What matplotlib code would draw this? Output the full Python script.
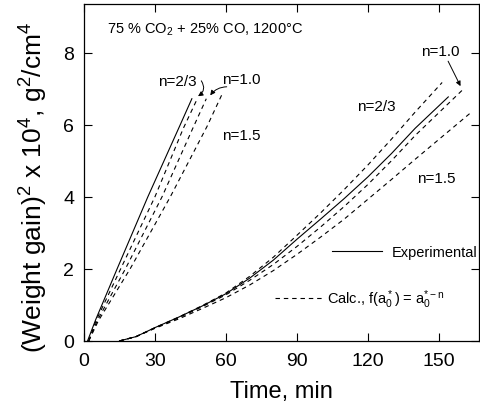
import numpy as np
import matplotlib
matplotlib.use('Agg')
import matplotlib.pyplot as plt
from matplotlib.lines import Line2D

plt.rcParams['font.family'] = ['Liberation Sans', 'DejaVu Sans']
plt.rcParams['mathtext.default'] = 'regular'

# grupo da esquerda (curva rapida)
t_esq_exp = [1.5, 5, 14, 27, 40.7, 45.6]
y_esq_exp = [0, 0.6, 2, 4, 6, 6.72]
t_esq_23 = [2, 5, 15.5, 30, 42, 47.9]
y_esq_23 = [0, 0.55, 2, 4, 5.9, 6.72]
t_esq_10 = [2, 5.5, 17.5, 33, 46, 51.7]
y_esq_10 = [0, 0.55, 2, 4, 5.9, 6.72]
t_esq_15 = [2, 6, 19.5, 36.5, 52, 58.4]
y_esq_15 = [0, 0.55, 2, 4, 5.95, 6.85]

# grupo da direita (curva lenta)
t_dir = [15, 22, 30, 40, 50, 60, 70, 80, 90, 100, 110, 120, 130, 140]
y_dir_exp = [0, 0.12, 0.37, 0.66, 0.97, 1.31, 1.74, 2.24, 2.82, 3.38, 3.95, 4.55, 5.2, 5.9]
y_dir_23 = [0, 0.12, 0.37, 0.66, 0.98, 1.33, 1.79, 2.32, 2.93, 3.55, 4.2, 4.88, 5.6, 6.35]
y_dir_10 = [0, 0.12, 0.36, 0.64, 0.95, 1.28, 1.68, 2.12, 2.62, 3.16, 3.73, 4.34, 5.0, 5.7]
y_dir_15 = [0, 0.12, 0.35, 0.61, 0.9, 1.2, 1.55, 1.95, 2.4, 2.88, 3.38, 3.93, 4.48, 5.04]
fim_exp = (154, 6.77)
fim_23 = (151.4, 7.17)
fim_10 = (159.8, 6.95)
fim_15 = (164, 6.36)

xticks = [0, 30, 60, 90, 120, 150]
yticks = [0, 2, 4, 6, 8]

fig = plt.figure(figsize=(4.8, 4.1), dpi=100)
ax = fig.add_axes([0.175, 0.166, 0.823, 0.822])

lw = 0.8
tracejado = (0, (4, 3.5))

ax.plot(t_esq_exp, y_esq_exp, color='black', lw=lw)
for t, y in [(t_esq_23, y_esq_23), (t_esq_10, y_esq_10), (t_esq_15, y_esq_15)]:
    ax.plot(t, y, color='black', lw=lw, linestyle=tracejado)

ax.plot(t_dir + [fim_exp[0]], y_dir_exp + [fim_exp[1]], color='black', lw=lw)
for y, fim in [(y_dir_23, fim_23), (y_dir_10, fim_10), (y_dir_15, fim_15)]:
    ax.plot(t_dir + [fim[0]], y + [fim[1]], color='black', lw=lw, linestyle=tracejado)

ax.set_xlim(0, 167)
ax.set_ylim(0, 9.35)
ax.set_xticks(xticks)
ax.set_yticks(yticks)
ax.tick_params(direction='in', length=6, width=0.8, labelsize=14, top=True, right=True)
ax.tick_params(axis='x', pad=8)
ax.tick_params(axis='y', pad=7)
for s in ax.spines.values():
    s.set_linewidth(0.9)

ax.set_xlabel('Time, min', fontsize=17, labelpad=8)
ax.set_ylabel('(Weight gain)$^2$ x 10$^4$, g$^2$/cm$^4$', fontsize=19)
ax.yaxis.set_label_coords(-0.085, 0.46)

ax.text(9.7, 8.67, '75 % CO$_2$ + 25% CO, 1200°C', fontsize=10.5, va='center')

fs = 11
ax.text(31.2, 7.22, 'n=2/3', fontsize=fs, va='center')
ax.text(58.2, 7.28, 'n=1.0', fontsize=fs, va='center')
ax.text(58.2, 5.72, 'n=1.5', fontsize=fs, va='center')
ax.text(142.4, 8.03, 'n=1.0', fontsize=fs, va='center')
ax.text(115.5, 6.53, 'n=2/3', fontsize=fs, va='center')
ax.text(140.8, 4.53, 'n=1.5', fontsize=fs, va='center')

seta = dict(arrowstyle='-|>', color='black', lw=0.7, mutation_scale=7)
ax.annotate('', xy=(47.2, 6.75), xytext=(48.9, 7.28),
            arrowprops=dict(seta, connectionstyle='arc3,rad=-0.6'))
ax.annotate('', xy=(52.7, 6.75), xytext=(61.5, 7.05),
            arrowprops=dict(seta, connectionstyle='arc3,rad=0.3'))
ax.annotate('', xy=(159.7, 7.0), xytext=(153.4, 7.83),
            arrowprops=dict(seta, connectionstyle='arc3,rad=0'))

h_exp = Line2D([], [], color='black', lw=lw)
h_calc = Line2D([], [], color='black', lw=lw, linestyle=tracejado)
leg1 = ax.legend([h_exp], ['Experimental'], loc='center left',
                 bbox_to_anchor=(0.628, 0.264), frameon=False, fontsize=10.5,
                 handlelength=3.4, handletextpad=0.7, borderpad=0, borderaxespad=0)
ax.add_artist(leg1)
ax.legend([h_calc], ['Calc., f(a$_0^*$) = a$_0^{*-n}$'], loc='center left',
          bbox_to_anchor=(0.484, 0.125), frameon=False, fontsize=10.5,
          handlelength=3.2, handletextpad=0.35, borderpad=0, borderaxespad=0)

plt.savefig('out.png', dpi=100)
